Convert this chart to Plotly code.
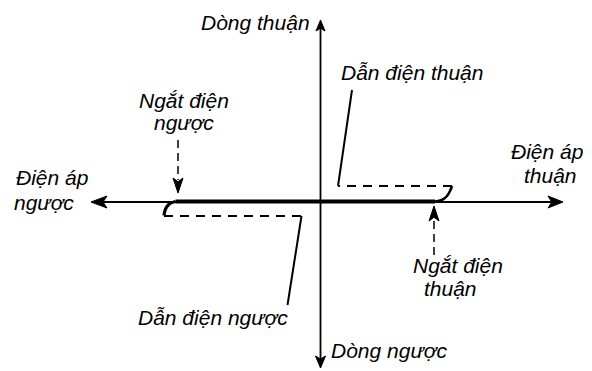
import plotly.graph_objects as go

# ---- diagram geometry (units = screen pixels, origin at the axis crossing, y up) ----
AXIS_H_X = [-229.5, 242.5]          # voltage axis extent (reverse .. forward)
AXIS_V_Y = [-166, 182]              # current axis extent (reverse .. forward)

BLOCK_X = [-145, 114.5]             # thick blocking characteristic on the axis
BLOCK_Y = [0.5, 0.5]

REV_KNEE_X = [-145, -150, -153.5, -155.5, -156.5]
REV_KNEE_Y = [0.5, -1.2, -4.5, -8.5, -13.5]
FWD_KNEE_X = [114.5, 121.5, 126.5, 129.5, 131.5]
FWD_KNEE_Y = [0.5, 2, 6, 11, 16]

REV_DASH_X = [-156.5, -19]
REV_DASH_Y = [-14, -14]
REV_COND_X = [-19, -33]
REV_COND_Y = [-14, -103]

FWD_DASH_X = [131.5, 17.5]
FWD_DASH_Y = [16, 16]
FWD_COND_X = [17.5, 31.5]
FWD_COND_Y = [16, 112]

REV_BREAK_X = [-142.5, -142.5]      # dashed pointer to reverse breakdown
REV_BREAK_Y = [62, 22]
REV_BREAK_TIP = (-142.5, 9)
FWD_BREAK_X = [113.5, 113.5]        # dashed pointer to forward breakover
FWD_BREAK_Y = [-53, -16]
FWD_BREAK_TIP = (113.5, -4)

LABELS = [
    # text, x, y
    ("Dòng thuận", -65, 180),
    ("Dẫn điện thuận", 91, 130),
    ("Ngắt điện", -136.5, 102),
    ("ngược", -137, 80),
    ("Điện áp", -269, 25),
    ("ngược", -276.5, 0),
    ("Điện áp", 226, 51),
    ("thuận", 229.5, 27),
    ("Ngắt điện", 137.5, -63),
    ("thuận", 130, -86),
    ("Dẫn điện ngược", -108, -115),
    ("Dòng ngược", 68, -148),
]

# the page body has an 8px margin, so the visible window starts 8px before the figure
X_RANGE = [-312.5, 279.5]
Y_RANGE = [-177, 194]

INK = "#000000"
FONT = "Liberation Sans, Arial, sans-serif"

fig = go.Figure()


def line(xs, ys, width, dash="solid"):
    fig.add_trace(go.Scatter(x=xs, y=ys, mode="lines",
                             line=dict(color=INK, width=width, dash=dash, shape="spline"),
                             hoverinfo="skip", showlegend=False))


def head(tip, direction, length, width):
    tx, ty = tip
    dx, dy = direction
    bx, by = tx - dx * length, ty - dy * length
    px, py = -dy * width / 2, dx * width / 2
    nx, ny = tx - dx * length * 0.75, ty - dy * length * 0.75
    fig.add_trace(go.Scatter(
        x=[tx, bx + px, nx, bx - px, tx], y=[ty, by + py, ny, by - py, ty],
        mode="lines", fill="toself", fillcolor=INK,
        line=dict(color=INK, width=1), hoverinfo="skip", showlegend=False))


# axes
line([AXIS_H_X[0] + 6, AXIS_H_X[1] - 6], [0, 0], 1.8)
line([0, 0], [AXIS_V_Y[0] + 6, AXIS_V_Y[1] - 6], 1.8)
head((AXIS_H_X[0], 0), (-1, 0), 16, 12)
head((AXIS_H_X[1], 0), (1, 0), 15, 12)
head((0, AXIS_V_Y[1]), (0, 1), 11, 9)
head((0, AXIS_V_Y[0]), (0, -1), 12, 10)

# characteristic
line(BLOCK_X, BLOCK_Y, 4)
line(REV_KNEE_X, REV_KNEE_Y, 3.2)
line(FWD_KNEE_X, FWD_KNEE_Y, 2.6)
line(REV_DASH_X, REV_DASH_Y, 1.8, "9px,7px")
line(FWD_DASH_X, FWD_DASH_Y, 1.8, "9px,7px")
line(REV_COND_X, REV_COND_Y, 2)
line(FWD_COND_X, FWD_COND_Y, 2)

# dashed pointers
line(REV_BREAK_X, REV_BREAK_Y, 1.5, "8px,5px")
head(REV_BREAK_TIP, (0, -1), 15, 10)
line(FWD_BREAK_X, FWD_BREAK_Y, 1.5, "8px,5px")
head(FWD_BREAK_TIP, (0, 1), 15, 10)

for text, x, y in LABELS:
    fig.add_annotation(x=x, y=y, text=text, showarrow=False, xanchor="center", yanchor="middle",
                       font=dict(family=FONT, size=21, color=INK, style="italic"))

fig.update_layout(
    width=592, height=371, margin=dict(l=0, r=0, t=0, b=0),
    paper_bgcolor="white", plot_bgcolor="white",
    xaxis=dict(range=X_RANGE, visible=False, fixedrange=True),
    yaxis=dict(range=Y_RANGE, visible=False, fixedrange=True),
)

fig.write_html("out.html")
